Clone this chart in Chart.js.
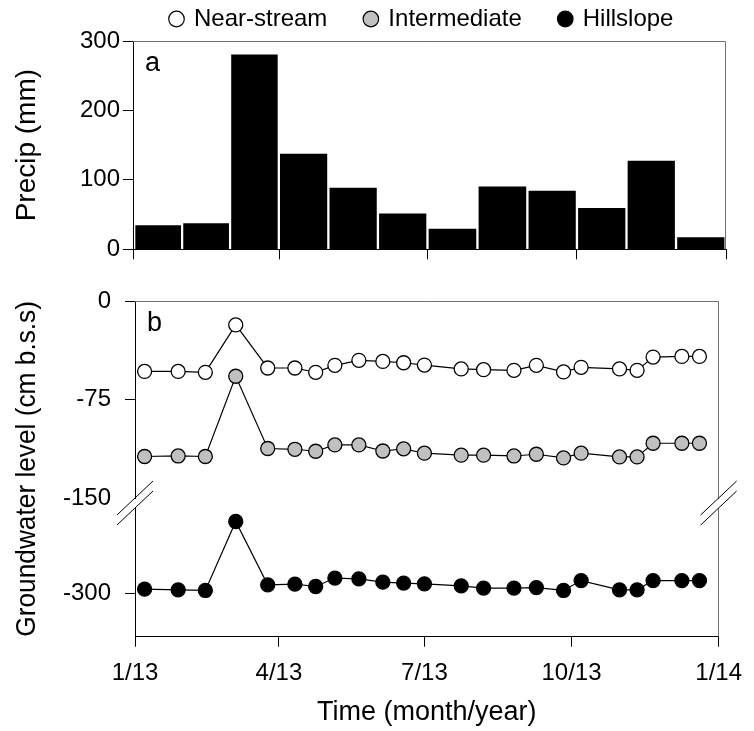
<!DOCTYPE html>
<html>
<head>
<meta charset="utf-8">
<title>Precipitation and groundwater level 2013</title>
<script src="https://cdn.jsdelivr.net/npm/chart.js@4.4.1/dist/chart.umd.min.js"></script>
<style>
  body { margin: 0; background: #fff; }
  #wrap { position: relative; width: 754px; height: 731px; }
  #wrap canvas { position: absolute; left: 0; top: 0; }
</style>
</head>
<body>
<div id="wrap">
  <canvas id="precipChart" width="754" height="731"></canvas>
  <canvas id="gwChart" width="754" height="731"></canvas>
</div>
<script>
// Monthly precipitation 2013 (mm)
const monthStart = [0, 31, 59, 90, 120, 151, 181, 212, 243, 273, 304, 334, 365]; // day of year
const precip = [34, 37, 280, 137, 88, 51, 29, 90, 84, 59, 127, 17];

// Groundwater sampling days (day of year 2013) and levels (cm below soil surface)
const sampleDay = [6, 27, 44, 63, 83, 100, 113, 125, 140, 155, 168, 181, 204, 218, 237, 251, 268, 279, 303, 314, 324, 342, 353];
const nearStream = [-53.6, -53.6, -54.3, -18.2, -51, -51, -54.3, -49, -45.2, -46, -47, -48.8, -51.7, -52.3, -52.8, -49, -54, -50.5, -51.7, -52.8, -42.7, -42.2, -42.2];
const intermediate = [-118.4, -118, -118.4, -57.3, -112.3, -112.9, -114.4, -109.6, -109.6, -114.2, -112.6, -115.9, -117.4, -117.4, -118, -116.7, -119.5, -115.9, -118.7, -118.7, -108.3, -108.3, -108.3];
const hillslope = [-297, -297.5, -298, -245.8, -293.7, -293.2, -295, -288.6, -289.2, -291.7, -292.4, -293, -294.5, -296.2, -296.2, -295.8, -298, -290.5, -297.5, -297.5, -290.5, -290.5, -290.5];

const seriesNames = ['Near-stream', 'Intermediate', 'Hillslope'];
const seriesFill = ['#ffffff', '#c0c0c0', '#000000'];

// x axis ticks (day of year)
const tickDays = [0, 90, 181, 273, 365];
const tickLabels = ['1/13', '4/13', '7/13', '10/13', '1/14'];

Chart.defaults.font.family = "'Liberation Sans', Arial, sans-serif";
Chart.defaults.font.size = 24;
Chart.defaults.color = '#000';

const setTicks = s => { s.ticks = tickDays.map(v => ({ value: v })); };

// grey top/right frame and panel letter
const panelFrame = {
  id: 'panelFrame',
  afterDraw(chart, args, opts) {
    const { ctx, chartArea: a } = chart;
    const t = Math.round(a.top) + 0.5;
    const r = Math.round(a.right) - 0.5;
    ctx.save();
    ctx.strokeStyle = '#707070';
    ctx.lineWidth = 1;
    ctx.beginPath();
    ctx.moveTo(a.left, t);
    ctx.lineTo(r, t);
    ctx.lineTo(r, a.bottom);
    ctx.stroke();
    ctx.fillStyle = '#000';
    ctx.font = "27px 'Liberation Sans', Arial, sans-serif";
    ctx.textBaseline = 'alphabetic';
    ctx.fillText(opts.letter, a.left + 12, a.top + 30);
    ctx.restore();
  }
};

// // marks where the groundwater axis is broken
const axisBreak = {
  id: 'axisBreak',
  afterDraw(chart) {
    const { ctx, chartArea: a } = chart;
    const yb = chart.scales.yUp.bottom;
    ctx.save();
    ctx.fillStyle = '#fff';
    ctx.strokeStyle = '#000';
    ctx.lineWidth = 1;
    [a.left, a.right].forEach(x => {
      ctx.fillRect(x - 3, yb + 1, 6, 9);
      ctx.beginPath();
      [yb, yb + 10].forEach(y0 => {
        ctx.moveTo(x - 18, y0 + 17);
        ctx.lineTo(x + 18, y0 - 17);
      });
      ctx.stroke();
    });
    ctx.restore();
  }
};

// panel a: precipitation
new Chart(document.getElementById('precipChart'), {
  type: 'bar',
  data: {
    datasets: [{
      label: 'Precip (mm)',
      data: precip.map((v, i) => ({ x: (monthStart[i] + monthStart[i + 1]) / 2, y: v })),
      backgroundColor: '#000',
      borderWidth: 0,
      barThickness: 'flex',
      barPercentage: 0.94,
      categoryPercentage: 1
    }]
  },
  options: {
    responsive: false,
    animation: false,
    devicePixelRatio: 1,
    layout: { padding: { top: -31, right: 28, bottom: 471.7, left: 0 } },
    plugins: {
      legend: {
        position: 'top',
        align: 'start',
        fullSize: false,
        labels: {
          usePointStyle: true,
          boxWidth: 11,
          boxHeight: 11,
          padding: 38,
          font: { size: 24 },
          generateLabels: () => seriesNames.map((t, i) => ({
            text: t,
            fillStyle: seriesFill[i],
            strokeStyle: '#000',
            lineWidth: 1.2,
            pointStyle: 'circle',
            hidden: false,
            datasetIndex: i
          }))
        }
      },
      tooltip: { enabled: false },
      panelFrame: { letter: 'a' }
    },
    scales: {
      x: {
        type: 'linear',
        min: 0,
        max: 365,
        offset: false,
        afterBuildTicks: setTicks,
        ticks: { display: false },
        grid: { offset: false, drawOnChartArea: false, tickLength: 10, color: '#000' },
        border: { color: '#000' },
        afterFit: s => { s.height = 10; }
      },
      y: {
        min: 0,
        max: 300,
        ticks: { stepSize: 100, padding: 3 },
        grid: { drawOnChartArea: false, tickLength: 10, color: '#000' },
        border: { color: '#000' },
        title: { display: true, text: 'Precip (mm)', font: { size: 28 }, padding: { top: 10, bottom: 0 } },
        afterFit: s => { s.width = 133; }
      }
    }
  },
  plugins: [panelFrame]
});

// panel b: groundwater level
const lineSet = (i, values, axis) => ({
  label: seriesNames[i],
  data: sampleDay.map((d, k) => ({ x: d, y: values[k] })),
  yAxisID: axis,
  borderColor: '#000',
  borderWidth: 1.2,
  pointBackgroundColor: seriesFill[i],
  pointBorderColor: '#000',
  pointBorderWidth: 1.3,
  pointRadius: 7,
  showLine: true,
  tension: 0,
  clip: false
});

const gwTick = { drawOnChartArea: false, tickLength: 10, color: '#000' };

new Chart(document.getElementById('gwChart'), {
  type: 'line',
  data: {
    datasets: [
      lineSet(0, nearStream, 'yUp'),
      lineSet(1, intermediate, 'yUp'),
      lineSet(2, hillslope, 'yLow')
    ]
  },
  options: {
    responsive: false,
    animation: false,
    devicePixelRatio: 1,
    layout: { padding: { top: 301, right: 28, bottom: 0, left: 0 } },
    plugins: {
      legend: { display: false },
      tooltip: { enabled: false },
      title: {
        display: true,
        position: 'left',
        fullSize: false,
        text: 'Groundwater level (cm b.s.s)',
        font: { size: 28, weight: 'normal' },
        color: '#000',
        padding: { top: 10, bottom: 6.4 }
      },
      panelFrame: { letter: 'b' }
    },
    scales: {
      x: {
        type: 'linear',
        min: 0,
        max: 365,
        afterBuildTicks: setTicks,
        ticks: {
          padding: 12,
          maxRotation: 0,
          autoSkip: false,
          callback: v => tickLabels[tickDays.indexOf(v)]
        },
        grid: gwTick,
        border: { color: '#000' },
        title: { display: true, text: 'Time (month/year)', font: { size: 27 }, padding: { top: 0, bottom: 2 } },
        afterFit: s => { s.height = 94.3; }
      },
      yLow: {
        type: 'linear',
        position: 'left',
        stack: 'gw',
        stackWeight: 138.7,
        min: -333,
        max: -228,
        afterBuildTicks: s => { s.ticks = [{ value: -300 }]; },
        ticks: { padding: 14 },
        grid: gwTick,
        border: { color: '#000' },
        afterFit: s => { s.width = 85; }
      },
      yUp: {
        type: 'linear',
        position: 'left',
        stack: 'gw',
        stackWeight: 197,
        min: -150,
        max: 0,
        ticks: { stepSize: 75, padding: 14 },
        grid: {
          drawOnChartArea: false,
          tickLength: 10,
          color: '#000',
          tickColor: c => (c.tick && c.tick.value === -150 ? 'rgba(0,0,0,0)' : '#000')
        },
        border: { color: '#000' },
        afterFit: s => { s.width = 85; }
      }
    }
  },
  plugins: [panelFrame, axisBreak]
});
</script>
</body>
</html>
